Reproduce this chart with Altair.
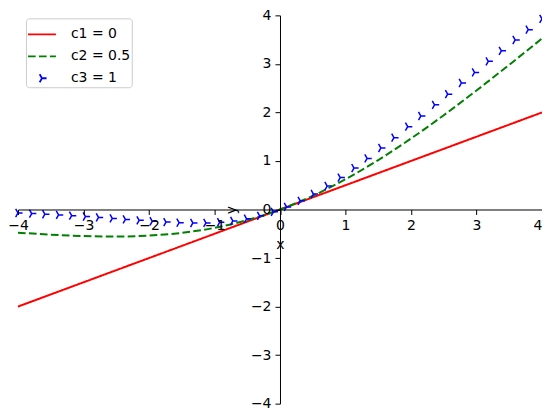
import altair as alt
import pandas as pd

series_names = ["c1 = 0", "c2 = 0.5", "c3 = 1"]
series_colors = ["#ff0000", "#008000", "#0000ff"]

c1_x = [-4.0, 0.0, 4.0]
c1_y = [-2.0, 0.0, 2.0]

c2_x = [-4.0, -3.5, -3.0, -2.5, -2.0, -1.5, -1.0, -0.5, 0.0,
        0.5, 1.0, 1.5, 2.0, 2.5, 3.0, 3.5, 4.0]
c2_y = [-0.477, -0.518, -0.547, -0.557, -0.538, -0.481, -0.378, -0.219, 0.0,
        0.281, 0.623, 1.019, 1.462, 1.943, 2.453, 2.982, 3.523]

c3_x = [-4.00, -3.79, -3.59, -3.38, -3.18, -2.97, -2.77, -2.56, -2.36, -2.15,
        -1.95, -1.74, -1.54, -1.33, -1.13, -0.92, -0.72, -0.51, -0.31, -0.10,
        0.10, 0.31, 0.51, 0.72, 0.92, 1.13, 1.33, 1.54, 1.74, 1.95,
        2.15, 2.36, 2.56, 2.77, 2.97, 3.18, 3.38, 3.59, 3.79, 4.00]
c3_y = [-0.072, -0.084, -0.097, -0.111, -0.127, -0.145, -0.163, -0.184, -0.204, -0.224,
        -0.243, -0.260, -0.272, -0.278, -0.276, -0.262, -0.236, -0.191, -0.131, -0.048,
        0.053, 0.179, 0.319, 0.484, 0.658, 0.854, 1.052, 1.268, 1.480, 1.707,
        1.926, 2.156, 2.376, 2.607, 2.825, 3.053, 3.269, 3.493, 3.706, 3.928]

tick_values = [-4, -3, -2, -1, 0, 1, 2, 3, 4]

tri_right = "M0,0L0.33,0M0,0L-0.165,-0.29M0,0L-0.165,0.29"

lines_df = pd.DataFrame({
    "x": c1_x + c2_x,
    "y": c1_y + c2_y,
    "series": [series_names[0]] * len(c1_x) + [series_names[1]] * len(c2_x),
})
pts_df = pd.DataFrame({"x": c3_x, "y": c3_y, "series": [series_names[2]] * len(c3_x)})

FONT = "DejaVu Sans"
W, H = 525, 389

common_axis = dict(
    values=tick_values, grid=False, format="d",
    domainColor="black", domainWidth=1, tickColor="black", tickWidth=1, tickSize=5,
    labelColor="black", labelFont=FONT, labelFontSize=14, labelPadding=4,
    titleColor="black", titleFont=FONT, titleFontSize=14, titleFontWeight="normal",
    labelFlush=False, zindex=1,
)

x_enc = alt.X("x:Q", scale=alt.Scale(domain=[-4, 4], nice=False, zero=False),
              axis=alt.Axis(orient="bottom", offset=-H / 2, title="x", titlePadding=5,
                            labelAlign={"expr": "datum.value == 4 ? 'right' : 'center'"},
                            **common_axis))
y_enc = alt.Y("y:Q", scale=alt.Scale(domain=[-4, 4], nice=False, zero=False),
              axis=alt.Axis(orient="left", offset=-W / 2, title="y", titlePadding=12, **common_axis))

legend = alt.Legend(
    title=None, orient="none", legendX=8, legendY=3, padding=1, rowPadding=-1,
    strokeColor="#cccccc", fillColor="rgba(255,255,255,0.8)", cornerRadius=3,
    labelFont=FONT, labelFontSize=14, labelColor="black", labelOffset=14,
    symbolSize=784, symbolStrokeWidth=1.8,
)

color_enc = alt.Color("series:N", scale=alt.Scale(domain=series_names, range=series_colors), legend=legend)
dash_enc = alt.StrokeDash("series:N", scale=alt.Scale(domain=series_names, range=[[1, 0], [7.7, 3.3], [1, 0]]), legend=legend)
shape_enc = alt.Shape("series:N", scale=alt.Scale(domain=series_names, range=["stroke", "stroke", tri_right]), legend=legend)

lines = alt.Chart(lines_df).mark_line(strokeWidth=2, interpolate="monotone").encode(
    x=x_enc, y=y_enc, color=color_enc, strokeDash=dash_enc, detail="series:N"
)
pts = alt.Chart(pts_df).mark_point(filled=False, size=784, strokeWidth=1.5, opacity=1).encode(
    x=x_enc, y=y_enc, color=color_enc, shape=shape_enc
)

chart = alt.layer(lines, pts).properties(
    width=W, height=H,
    autosize=alt.AutoSizeParams(type="none"),
    padding={"left": 10, "top": 7, "right": 0, "bottom": 7},
    view=alt.ViewBackground(stroke=None, strokeWidth=0),
).configure_view(strokeWidth=0, stroke=None).configure(background="white")

chart.save("out.html", embed_options={"renderer": "svg", "actions": False})
